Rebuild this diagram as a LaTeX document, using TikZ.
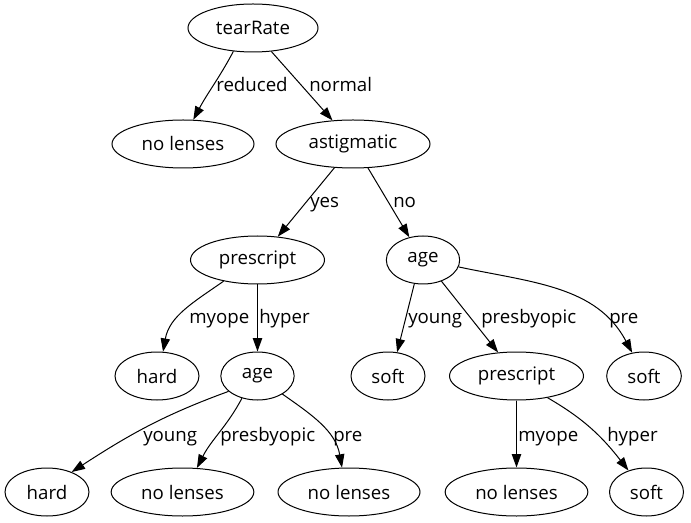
\documentclass[tikz,border=0pt]{standalone}
\usepackage{fontspec}
\setmainfont{Open Sans}
\usepackage{tikz}
\usetikzlibrary{shapes.geometric, arrows.meta}

\tikzset{
    dnode/.style={draw, ellipse, line width=0.75pt, inner sep=0pt,
                  minimum height=36pt, minimum width=#1},
    edge/.style={line width=0.75pt, -{Triangle[length=10pt, width=7pt]}},
    elabel/.style={inner sep=0pt, anchor=base west}
}

\begin{document}
\begin{tikzpicture}[x=0.75pt, y=-0.75pt, font=\fontsize{14}{17}\selectfont]
    % Frame of the whole picture
    \useasboundingbox (0,0) rectangle (691,523);

    % Root and first level
    \node[dnode=97.5pt]  (tear) at (253,28)  {tearRate};
    \node[dnode=106.5pt] (noA)  at (183,144) {no lenses};
    \node[dnode=115.5pt] (astig) at (353,144) {astigmatic};

    % Second level
    \node[dnode=100.5pt] (presA) at (257.5,260) {prescript};
    \node[dnode=55pt]    (ageA)  at (423,260) {age};

    % Third level
    \node[dnode=63pt]    (hardA) at (157,376) {hard};
    \node[dnode=55pt]    (ageB)  at (257.5,376) {age};
    \node[dnode=55.5pt]  (softA) at (388,376) {soft};
    \node[dnode=100.5pt] (presB) at (516.5,376) {prescript};
    \node[dnode=56pt]    (softB) at (644,376) {soft};

    % Leaves at the bottom
    \node[dnode=63pt]    (hardB) at (47,492)    {hard};
    \node[dnode=107pt]   (noB)   at (182.5,492) {no lenses};
    \node[dnode=106.5pt] (noC)   at (349,492)   {no lenses};
    \node[dnode=107pt]   (noD)   at (516.5,492) {no lenses};
    \node[dnode=55.5pt]  (softC) at (646.5,492) {soft};

    % tearRate branches
    \draw[edge] (tear.-130) to[out=-118, in=62] (noA.67);
    \draw[edge] (tear.-52) -- (astig.131);
    \node[elabel] (lReduced) at (216,92) {reduced};
    \node[elabel] (lNormal)  at (309,92) {normal};

    % astigmatic branches
    \draw[edge] (astig.-128) -- (presA.49);
    \draw[edge] (astig.-58) -- (ageA.121);
    \node[elabel] (lYes) at (310,208) {yes};
    \node[elabel] (lNo)  at (393,208) {no};

    % prescript (left) branches
    \draw[edge] (presA.-148) to[out=-145, in=80] (hardA.76);
    \draw[edge] (presA.south) -- (ageB.north);
    \node[elabel] (lMyopeA) at (189,324) {myope};
    \node[elabel] (lHyperA) at (259,324) {hyper};

    % age (right) branches
    \draw[edge] (ageA.-110) -- (softA.69);
    \draw[edge] (ageA.-49) -- (presB.128);
    \draw[edge] (ageA.-11) to[out=-12, in=118] (softB.117);
    \node[elabel] (lYoungA) at (408,324) {young};
    \node[elabel] (lPresbA) at (481,324) {presbyopic};
    \node[elabel] (lPreA)   at (609,324) {pre};

    % age (left) branches
    \draw[edge] (ageB.-152) to[out=-160, in=33] (hardB.39);
    \draw[edge] (ageB.-125) to[out=-118, in=63] (noB.59);
    \draw[edge] (ageB.-36) to[out=-35, in=100] (noC.106);
    \node[elabel] (lYoungB) at (143,441) {young};
    \node[elabel] (lPresbB) at (220,441) {presbyopic};
    \node[elabel] (lPreB)   at (333,441) {pre};

    % prescript (right) branches
    \draw[edge] (presB.south) -- (noD.north);
    \draw[edge] (presB.-35) to[out=-30, in=128] (softC.130);
    \node[elabel] (lMyopeB) at (518,441) {myope};
    \node[elabel] (lHyperB) at (607,441) {hyper};
\end{tikzpicture}
\end{document}
